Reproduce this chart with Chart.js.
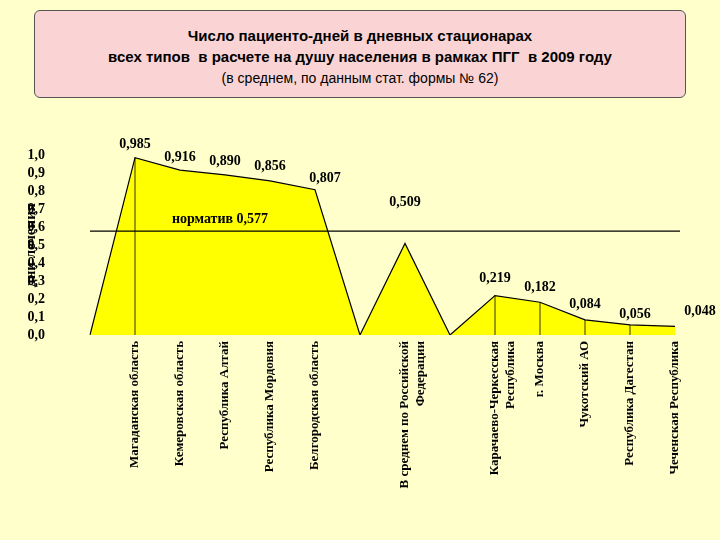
<!DOCTYPE html>
<html>
<head>
<meta charset="utf-8">
<script src="https://cdn.jsdelivr.net/npm/chart.js@4.4.1/dist/chart.umd.min.js"></script>
<style>
  body { margin: 0; background: #ffffcc; }
  #wrap { position: relative; width: 720px; height: 540px; }
  #title { position: absolute; left: 34px; top: 10px; width: 652px; height: 88px;
    background: #fad4d4; border: 1px solid #555; border-radius: 6px;
    font-family: "Liberation Sans", Arial, sans-serif; font-weight: bold; text-align: center;
    font-size: 15px; line-height: 21px; padding-top: 14px; box-sizing: border-box; }
  #title .sub { font-weight: normal; font-size: 14px; }
</style>
</head>
<body>
<div id="wrap">
  <canvas id="chart" width="720" height="540"></canvas>
  <div id="title">Число пациенто-дней в дневных стационарах<br>всех типов&nbsp; в расчете на душу населения в рамках ПГГ&nbsp; в 2009 году<br><span class="sub">(в среднем, по данным стат. формы № 62)</span></div>
</div>
<script>
  const categories = ["", "Магаданская область", "Кемеровская область", "Республика Алтай", "Республика Мордовия",
    "Белгородская область", "", ["В среднем по Российской", "Федерации"], "",
    ["Карачаево-Черкесская", "Республика"], "г. Москва", "Чукотский АО", "Республика Дагестан", "Чеченская Республика"];
  const values = [0, 0.985, 0.916, 0.890, 0.856, 0.807, 0, 0.509, 0, 0.219, 0.182, 0.084, 0.056, 0.048];
  const valueLabels = ["", "0,985", "0,916", "0,890", "0,856", "0,807", "", "0,509", "", "0,219", "0,182", "0,084", "0,056", "0,048"];
  const norm = 0.577;
  const dropLines = [1, 9, 10, 11, 12];
  const yTicks = ["0,0", "0,1", "0,2", "0,3", "0,4", "0,5", "0,6", "0,7", "0,8", "0,9", "1,0"];

  const serif = '"Liberation Serif", "Times New Roman", serif';
  const labelShift = [[0,0],[0,-6],[0,-6],[0,-6],[0,-8],[10,-4],[0,0],[0,-34],[0,0],[0,-10],[0,-8],[0,-8],[5,-4],[25,-8]];

  const extras = {
    id: 'extras',
    afterDatasetsDraw(chart) {
      const ctx = chart.ctx, x = chart.scales.x, y = chart.scales.y;
      ctx.save();
      ctx.strokeStyle = '#000'; ctx.lineWidth = 0.8;
      dropLines.forEach(i => {
        ctx.beginPath();
        ctx.moveTo(x.getPixelForValue(i), y.getPixelForValue(values[i]));
        ctx.lineTo(x.getPixelForValue(i), y.getPixelForValue(0));
        ctx.stroke();
      });
      ctx.lineWidth = 1.2;
      ctx.beginPath();
      ctx.moveTo(x.left, y.getPixelForValue(norm));
      ctx.lineTo(x.right + 5, y.getPixelForValue(norm));
      ctx.stroke();
      ctx.fillStyle = '#000';
      ctx.font = 'bold 14px ' + serif;
      ctx.textAlign = 'center'; ctx.textBaseline = 'bottom';
      values.forEach((v, i) => {
        if (!valueLabels[i]) return;
        ctx.fillText(valueLabels[i], x.getPixelForValue(i) + labelShift[i][0], y.getPixelForValue(v) + labelShift[i][1]);
      });
      ctx.fillText('норматив 0,577', x.getPixelForValue(3) - 5, y.getPixelForValue(norm) - 5);
      ctx.restore();
    }
  };

  new Chart(document.getElementById('chart'), {
    type: 'line',
    data: {
      labels: categories,
      datasets: [{
        data: values,
        borderColor: '#000', borderWidth: 1.2,
        backgroundColor: '#ffff00', fill: 'origin',
        pointRadius: 0, tension: 0
      }]
    },
    options: {
      responsive: false, animation: false,
      layout: { padding: { top: 155, right: 45, left: 22, bottom: 0 } },
      plugins: { legend: { display: false }, tooltip: { enabled: false } },
      scales: {
        x: {
          offset: false,
          grid: { display: false, drawTicks: false },
          border: { display: false },
          afterFit(s) { s.height = 205; },
          ticks: {
            autoSkip: false, maxRotation: 90, minRotation: 90, padding: 6,
            color: '#000', font: { family: serif, weight: 'bold', size: 13 }
          }
        },
        y: {
          min: 0, max: 1.0,
          grid: { display: false, drawTicks: false },
          border: { display: false },
          afterFit(s) { s.width = 68; },
          title: { display: true, text: 'дни лечения', color: '#000', padding: 0,
            font: { family: serif, weight: 'bold', size: 15 } },
          ticks: {
            autoSkip: false, stepSize: 0.1, padding: 45, color: '#000',
            font: { family: serif, weight: 'bold', size: 14 },
            callback: (v, i) => yTicks[i]
          }
        }
      }
    },
    plugins: [extras]
  });
</script>
</body>
</html>
